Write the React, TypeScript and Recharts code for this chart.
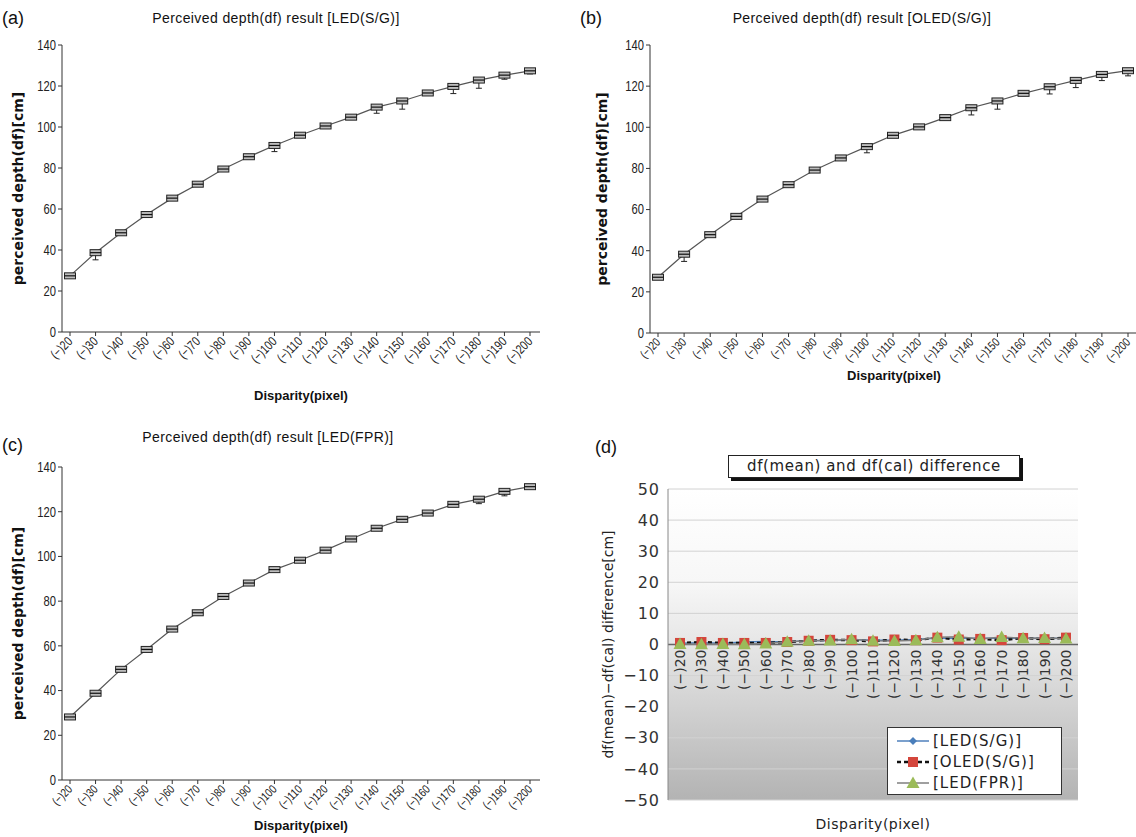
import React from "react";
import {
  LineChart,
  Line,
  XAxis,
  YAxis,
  CartesianGrid,
  Legend,
  ErrorBar,
  Label,
  ReferenceLine,
} from "recharts";

// categories
const disparityLabels = [
  "(−)20", "(−)30", "(−)40", "(−)50", "(−)60", "(−)70", "(−)80", "(−)90", "(−)100",
  "(−)110", "(−)120", "(−)130", "(−)140", "(−)150", "(−)160", "(−)170", "(−)180", "(−)190", "(−)200",
];

// perceived depth (cm) (a) (b) (c)
const ledSGDepth = [27.4, 38.7, 48.4, 57.3, 65.3, 72.1, 79.5, 85.5, 91.0, 96.0, 100.5, 104.8, 109.7, 112.7, 116.6, 119.8, 122.9, 125.3, 127.4];
const oledSGDepth = [27.1, 38.3, 47.8, 56.7, 65.1, 72.1, 79.2, 85.1, 90.6, 96.1, 100.2, 104.7, 109.5, 112.8, 116.5, 119.7, 122.8, 125.7, 127.5];
const ledFPRDepth = [28.2, 38.8, 49.5, 58.4, 67.5, 74.8, 82.1, 88.1, 94.1, 98.3, 102.8, 107.8, 112.6, 116.6, 119.4, 123.3, 125.6, 129.1, 131.2];

// lower whisker length (cm) under each box
const ledSGWhisker = [0, 3.5, 0, 0, 0, 0, 0, 0, 3, 0, 0, 0, 3, 4, 0, 3.5, 4, 2, 1.5];
const oledSGWhisker = [0, 3.5, 0, 0, 0, 0, 0, 0, 3, 0, 0, 0, 3.5, 4, 0, 3.5, 3.5, 3, 2.5];
const ledFPRWhisker = [0, 0, 0, 0, 0, 1, 0, 0, 0, 0, 0, 0, 0, 0, 0, 0, 2, 2, 0];

// df(mean) - df(cal), panel (d)
const diffLedSG = [0.4, 0.6, 0.4, 0.8, 1.0, 0.8, 1.3, 1.3, 1.6, 1.4, 1.4, 1.6, 2.1, 2.0, 2.0, 2.0, 2.0, 1.9, 2.0];
const diffOledSG = [0.5, 0.8, 0.5, 0.5, 0.5, 0.8, 1.2, 1.5, 1.4, 1.0, 1.6, 1.4, 2.2, 1.6, 1.8, 1.4, 2.1, 1.7, 2.2];
const diffLedFPR = [0.2, 0.1, 0.2, 0.1, 0.3, 0.9, 1.2, 1.3, 1.7, 1.2, 1.1, 1.4, 2.3, 2.5, 1.8, 2.4, 2.0, 2.1, 1.9];

const depthTicks = [0, 20, 40, 60, 80, 100, 120, 140];
const diffTicks = [-50, -40, -30, -20, -10, 0, 10, 20, 30, 40, 50];
const legendOrder = ["ledSG", "oledSG", "ledFPR"];

const SANS = "'Liberation Sans', Arial, sans-serif";
const WIDE = "'DejaVu Sans', Verdana, sans-serif";

function renderBoxDot(props: any) {
  const { cx, cy, index } = props;
  if (cx == null || cy == null) return <g key={index} />;
  return (
    <g key={index}>
      <rect x={cx - 5.5} y={cy - 3} width={11} height={6} fill="#bdbdbd" stroke="#222" strokeWidth={1} />
      <line x1={cx - 5.5} x2={cx + 5.5} y1={cy} y2={cy} stroke="#111" strokeWidth={1.2} />
    </g>
  );
}

// condensed, slanted category label like the original narrow font
function AngledTick(props: any) {
  const { x, y, payload, fontSize } = props;
  return (
    <g transform={`translate(${x},${y + 1}) rotate(-45)`}>
      <text
        x={0}
        y={0}
        dy="0.35em"
        textAnchor="end"
        transform="scale(0.8 1)"
        fontFamily={SANS}
        fontSize={fontSize}
        fill="#222"
      >
        {payload.value}
      </text>
    </g>
  );
}

function NarrowYTick(props: any) {
  const { x, y, payload } = props;
  return (
    <g transform={`translate(${x},${y})`}>
      <text x={0} y={0} dy="0.35em" textAnchor="end" transform="scale(0.8 1)" fontFamily={SANS} fontSize={14} fill="#222">
        {payload.value}
      </text>
    </g>
  );
}

type DepthPanelProps = {
  values: number[];
  whiskers: number[];
  left: number;
  top: number;
  width: number;
  height: number;
  plotTop: number;
  right: number;
  xAxisHeight: number;
  labelOffset: number;
  yLabelDx: number;
  tickFont: number;
};

function DepthPanel(p: DepthPanelProps) {
  const data = disparityLabels.map((label, i) => ({
    label,
    depth: p.values[i],
    err: [p.whiskers[i], 0],
  }));
  return (
    <div style={{ position: "absolute", left: p.left, top: p.top }}>
      <LineChart
        width={p.width}
        height={p.height}
        data={data}
        margin={{ top: p.plotTop, right: p.right, bottom: 0, left: 0 }}
      >
        <XAxis
          dataKey="label"
          interval={0}
          height={p.xAxisHeight}
          tickSize={4}
          padding={{ left: 8, right: 10 }}
          stroke="#333"
          tick={<AngledTick fontSize={p.tickFont} />}
        >
          <Label
            value="Disparity(pixel)"
            position="insideBottom"
            offset={p.labelOffset}
            style={{ fontFamily: SANS, fontWeight: 700, fontSize: 13, fill: "#111" }}
          />
        </XAxis>
        <XAxis
          xAxisId="top"
          dataKey="label"
          orientation="top"
          height={0}
          tick={false}
          tickLine={false}
          stroke="#444"
          padding={{ left: 8, right: 10 }}
        />
        <YAxis
          domain={[0, 140]}
          ticks={depthTicks}
          interval={0}
          width={62}
          tickSize={4}
          stroke="#333"
          tick={<NarrowYTick />}
        >
          <Label
            value="perceived depth(df)[cm]"
            angle={-90}
            position="center"
            dx={p.yLabelDx}
            style={{ fontFamily: WIDE, fontWeight: 700, fontSize: 14, fill: "#111", textAnchor: "middle" }}
          />
        </YAxis>
        <YAxis
          yAxisId="right"
          orientation="right"
          width={0}
          domain={[0, 140]}
          tick={false}
          tickLine={false}
          stroke="#444"
        />
        <Line
          dataKey="depth"
          stroke="#555"
          strokeWidth={1.2}
          dot={renderBoxDot}
          isAnimationActive={false}
        >
          <ErrorBar dataKey="err" direction="y" width={3} stroke="#222" strokeWidth={1} />
        </Line>
      </LineChart>
    </div>
  );
}

function Marker({ kind, cx, cy }: { kind: string; cx: number; cy: number }) {
  if (kind === "ledSG") {
    return <path d={`M${cx},${cy - 4}L${cx + 4},${cy}L${cx},${cy + 4}L${cx - 4},${cy}Z`} fill="#4a7ebb" />;
  }
  if (kind === "oledSG") {
    return <rect x={cx - 5} y={cy - 5} width={10} height={10} fill="#d4463c" />;
  }
  return <path d={`M${cx},${cy - 6.5}L${cx + 6.5},${cy + 5}L${cx - 6.5},${cy + 5}Z`} fill="#9bbb59" />;
}

const makeDot = (kind: string) => (props: any) => {
  const { cx, cy, index } = props;
  if (cx == null || cy == null) return <g key={index} />;
  return (
    <g key={index}>
      <Marker kind={kind} cx={cx} cy={cy} />
    </g>
  );
};

const lineStyles: Record<string, { stroke: string; dash?: string; width: number }> = {
  ledSG: { stroke: "#4f81bd", width: 1.5 },
  oledSG: { stroke: "#111", dash: "4 3", width: 2.4 },
  ledFPR: { stroke: "#7f7f7f", width: 1.5 },
};

function renderDiffLegend(props: any) {
  const payload = [...(props.payload || [])].sort(
    (a: any, b: any) => legendOrder.indexOf(String(a.dataKey)) - legendOrder.indexOf(String(b.dataKey))
  );
  return (
    <div
      style={{
        border: "1px solid #333",
        background: "#fff",
        width: 175,
        height: 68,
        boxSizing: "border-box",
        padding: "2px 0 0 8px",
      }}
    >
      {payload.map((entry: any) => {
        const key = String(entry.dataKey);
        const st = lineStyles[key];
        return (
          <div key={key} style={{ display: "flex", alignItems: "center", height: 21 }}>
            <svg width={34} height={16} style={{ marginRight: 3 }}>
              <line x1={1} x2={33} y1={8} y2={8} stroke={st.stroke} strokeWidth={st.width} strokeDasharray={st.dash} />
              <Marker kind={key} cx={17} cy={8} />
            </svg>
            <span style={{ fontFamily: WIDE, fontSize: 15, letterSpacing: 1, color: "#222" }}>{entry.value}</span>
          </div>
        );
      })}
    </div>
  );
}

const DIFF_PLOT_H = 311;

function DiffTick(props: any) {
  const { x, y, payload } = props;
  const ty = y - DIFF_PLOT_H / 2 + 5;
  return (
    <text
      x={x}
      y={ty}
      transform={`rotate(-90 ${x} ${ty})`}
      textAnchor="end"
      dominantBaseline="central"
      fontFamily={WIDE}
      fontSize={14}
      fill="#333"
    >
      {payload.value}
    </text>
  );
}

function DiffPanel() {
  const data = disparityLabels.map((label, i) => ({
    label,
    ledSG: diffLedSG[i],
    oledSG: diffOledSG[i],
    ledFPR: diffLedFPR[i],
  }));
  return (
    <div style={{ position: "absolute", left: 590, top: 470 }}>
      <LineChart width={500} height={367} data={data} margin={{ top: 19, right: 12, bottom: 0, left: 0 }}>
        <defs>
          <linearGradient id="diffBg" x1="0" y1="0" x2="0" y2="1">
            <stop offset="0%" stopColor="#ffffff" />
            <stop offset="30%" stopColor="#f7f7f7" />
            <stop offset="50%" stopColor="#e6e6e6" />
            <stop offset="100%" stopColor="#b3b3b3" />
          </linearGradient>
        </defs>
        <CartesianGrid vertical={false} stroke="#d2d2d2" fill="url(#diffBg)" fillOpacity={1} />
        <XAxis
          dataKey="label"
          interval={0}
          height={37}
          axisLine={false}
          tickLine={false}
          tickSize={0}
          tickMargin={0}
          padding={{ left: 12, right: 12 }}
          tick={<DiffTick />}
        >
          <Label
            value="Disparity(pixel)"
            position="insideBottom"
            offset={8}
            style={{ fontFamily: WIDE, fontSize: 14, fill: "#222", letterSpacing: 0.5 }}
          />
        </XAxis>
        <XAxis
          xAxisId="top"
          dataKey="label"
          orientation="top"
          height={0}
          tick={false}
          tickLine={false}
          stroke="#999"
        />
        <YAxis
          domain={[-50, 50]}
          ticks={diffTicks}
          interval={0}
          width={78}
          tickLine={false}
          stroke="#888"
          tickFormatter={(v: number) => String(v).replace("-", "−")}
          tick={{ fill: "#333", fontSize: 16, fontFamily: WIDE, letterSpacing: 1 }}
        >
          <Label
            value="df(mean)−df(cal) difference[cm]"
            angle={-90}
            position="center"
            dx={-21}
            style={{ fontFamily: WIDE, fontSize: 14, fill: "#222", textAnchor: "middle" }}
          />
        </YAxis>
        <YAxis
          yAxisId="right"
          orientation="right"
          width={0}
          domain={[-50, 50]}
          tick={false}
          tickLine={false}
          stroke="#999"
        />
        <ReferenceLine y={0} stroke="#666" strokeWidth={1.5} />
        <Line
          dataKey="ledSG"
          name="[LED(S/G)]"
          stroke={lineStyles.ledSG.stroke}
          strokeWidth={lineStyles.ledSG.width}
          dot={makeDot("ledSG")}
          isAnimationActive={false}
        />
        <Line
          dataKey="oledSG"
          name="[OLED(S/G)]"
          stroke={lineStyles.oledSG.stroke}
          strokeWidth={lineStyles.oledSG.width}
          strokeDasharray={lineStyles.oledSG.dash}
          dot={makeDot("oledSG")}
          isAnimationActive={false}
        />
        <Line
          dataKey="ledFPR"
          name="[LED(FPR)]"
          stroke={lineStyles.ledFPR.stroke}
          strokeWidth={lineStyles.ledFPR.width}
          dot={makeDot("ledFPR")}
          isAnimationActive={false}
        />
        <Legend
          layout="vertical"
          align="center"
          verticalAlign="middle"
          content={renderDiffLegend}
          wrapperStyle={{ left: 297, top: 257, width: 175, height: 68 }}
        />
      </LineChart>
    </div>
  );
}

const titleStyle: React.CSSProperties = {
  position: "absolute",
  fontFamily: SANS,
  fontSize: 14,
  letterSpacing: 0.4,
  color: "#111",
  whiteSpace: "nowrap",
  transform: "translate(-50%, -50%)",
};

const letterStyle: React.CSSProperties = {
  position: "absolute",
  fontFamily: SANS,
  fontSize: 18,
  color: "#111",
  lineHeight: "20px",
};

export default function App() {
  return (
    <div
      style={{
        position: "absolute",
        left: 0,
        top: 0,
        width: 1136,
        height: 837,
        overflow: "hidden",
        background: "#fff",
      }}
    >
      <DepthPanel
        values={ledSGDepth}
        whiskers={ledSGWhisker}
        left={0}
        top={0}
        width={548}
        height={410}
        plotTop={45}
        right={8}
        xAxisHeight={78}
        labelOffset={10}
        yLabelDx={-13}
        tickFont={13}
      />
      <DepthPanel
        values={oledSGDepth}
        whiskers={oledSGWhisker}
        left={588}
        top={0}
        width={552}
        height={390}
        plotTop={45}
        right={2}
        xAxisHeight={57}
        labelOffset={10}
        yLabelDx={-17}
        tickFont={12}
      />
      <DepthPanel
        values={ledFPRDepth}
        whiskers={ledFPRWhisker}
        left={0}
        top={420}
        width={548}
        height={417}
        plotTop={47}
        right={8}
        xAxisHeight={57}
        labelOffset={7}
        yLabelDx={-13}
        tickFont={12}
      />
      <DiffPanel />

      <div style={{ ...letterStyle, left: 2, top: 8 }}>(a)</div>
      <div style={{ ...titleStyle, left: 276, top: 18 }}>Perceived depth(df) result [LED(S/G)]</div>
      <div style={{ ...letterStyle, left: 580, top: 8 }}>(b)</div>
      <div style={{ ...titleStyle, left: 862, top: 18 }}>Perceived depth(df) result [OLED(S/G)]</div>
      <div style={{ ...letterStyle, left: 2, top: 435 }}>(c)</div>
      <div style={{ ...titleStyle, left: 268, top: 437 }}>Perceived depth(df) result [LED(FPR)]</div>
      <div style={{ ...letterStyle, left: 595, top: 437 }}>(d)</div>
      <div
        style={{
          position: "absolute",
          left: 728,
          top: 455,
          width: 292,
          height: 23,
          boxSizing: "border-box",
          border: "1px solid #222",
          boxShadow: "3px 3px 0 #111",
          background: "#fff",
          fontFamily: WIDE,
          fontSize: 15,
          letterSpacing: 0.6,
          lineHeight: "21px",
          textAlign: "center",
          color: "#222",
          whiteSpace: "nowrap",
        }}
      >
        df(mean) and df(cal) difference
      </div>
    </div>
  );
}
